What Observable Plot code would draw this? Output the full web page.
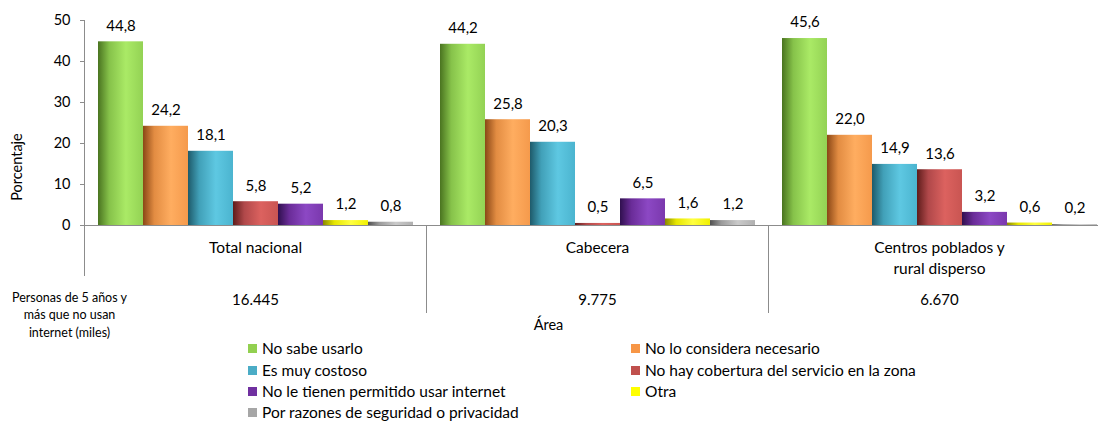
<!DOCTYPE html>
<html><head><meta charset="utf-8">
<script src="https://cdn.jsdelivr.net/npm/d3@7"></script>
<script src="https://cdn.jsdelivr.net/npm/@observablehq/plot@0.6"></script>
<style>
html,body{margin:0;padding:0;background:#fff;overflow:hidden}
#wrap{position:relative;width:1098px;height:423px;overflow:hidden;font-family:Lato,sans-serif}
#wrap svg{max-width:none!important;position:absolute;left:0;top:0}
.leg{position:absolute;font-size:15.5px;line-height:18px;color:#000;white-space:nowrap;padding-left:14px}
.leg i{position:absolute;left:0;top:4.5px;width:9px;height:9px}
</style></head><body><div id="wrap"></div>
<script>
const groups = ["Total nacional", "Cabecera", "Centros poblados y rural disperso"];
const groupLabels = ["Total nacional", "Cabecera", "Centros poblados y\nrural disperso"];
const series = [
  "No sabe usarlo",
  "No lo considera necesario",
  "Es muy costoso",
  "No hay cobertura del servicio en la zona",
  "No le tienen permitido usar internet",
  "Otra",
  "Por razones de seguridad o privacidad"
];
const totalNacional = [44.8, 24.2, 18.1, 5.8, 5.2, 1.2, 0.8];
const cabecera      = [44.2, 25.8, 20.3, 0.5, 6.5, 1.6, 1.2];
const centros       = [45.6, 22.0, 14.9, 13.6, 3.2, 0.6, 0.2];
const personas = ["16.445", "9.775", "6.670"];
const rowLabel = "Personas de 5 años y\nmás que no usan\ninternet (miles)";
const yTicks = [0, 10, 20, 30, 40, 50];
const flatColors = ["#92d050", "#f79646", "#4bacc6", "#c0504d", "#7030a0", "#ffff00", "#a6a6a6"];
const gradStops = [
  ["#4a7420", "#86c24a", "#aaea66", "#93d254"],
  ["#8a4716", "#e28c42", "#ffad60", "#f59a4c"],
  ["#1e5a6a", "#41a0b8", "#5ec8e2", "#4bb4cf"],
  ["#5e1c1b", "#b0484a", "#dc625f", "#c95552"],
  ["#30104f", "#6a2c98", "#8c48c4", "#7a38ad"],
  ["#8a8a00", "#e6e600", "#ffff40", "#f0f000"],
  ["#505050", "#9a9a9a", "#cacaca", "#b0b0b0"]
];

const valuesByGroup = [totalNacional, cabecera, centros];
const rows = [];
groups.forEach((g, gi) => series.forEach((s, si) => rows.push({area: g, serie: s, value: valuesByGroup[gi][si]})));
const tableRows = groups.map((g, i) => ({area: g, label: groupLabels[i], total: personas[i]}));
const fmt = v => v.toFixed(1).replace(".", ",");

const chart = Plot.plot({
  width: 1112, height: 423,
  marginTop: 20, marginBottom: 198, marginLeft: 83, marginRight: 2,
  style: {fontFamily: "Lato, sans-serif", fontSize: "14px", color: "#000", background: "transparent"},
  fx: {domain: groups, padding: 0, axis: null, label: null},
  x: {domain: series, paddingInner: 0, paddingOuter: 0.22, axis: null},
  y: {domain: [0, 50], axis: null},
  color: {domain: series, range: series.map((_, i) => `url(#grad${i})`)},
  marks: [
    Plot.barY(rows, {fx: "area", x: "serie", y: "value", fill: "serie"}),
    Plot.ruleY([0], {stroke: "#8c8c8c"}),
    Plot.frame({anchor: "left", facetAnchor: "left", stroke: "#8c8c8c", insetBottom: -50}),
    Plot.frame({anchor: "right", stroke: "#8c8c8c", insetTop: 205, insetBottom: -87}),
    Plot.axisY(yTicks, {tickSize: 4, tickPadding: 10, stroke: "#8c8c8c", fill: "#000", fontSize: 14.5, label: null, tickFormat: d => d}),
    Plot.text(["Porcentaje"], {frameAnchor: "left", facetAnchor: "left", textAnchor: "middle", rotate: -90, dx: -67, dy: 44, fontSize: 14.5, fill: "#000"}),
    Plot.text(rows, {fx: "area", x: "serie", y: "value", text: d => fmt(d.value), dy: -16, fontSize: 15, fill: "#000"}),
    Plot.text(tableRows, {fx: "area", text: "label", frameAnchor: "bottom", lineAnchor: "top", dy: 13, lineHeight: 1.35, fontSize: 15.5, fill: "#000"}),
    Plot.text(tableRows, {fx: "area", text: "total", frameAnchor: "bottom", dy: 79, fontSize: 15, fill: "#000"}),
    Plot.text([rowLabel], {frameAnchor: "bottom-left", facetAnchor: "left", textAnchor: "middle", lineAnchor: "top", dx: -15, dy: 64, lineHeight: 1.4, fontSize: 12.5, fill: "#000"}),
    Plot.text([tableRows[1]], {fx: "area", text: () => "Área", frameAnchor: "bottom", dx: -49, dy: 104, fontSize: 14.5, fill: "#000"})
  ]
});
chart.style.maxWidth = "none";

const defs = d3.select(chart).insert("defs", ":first-child");
gradStops.forEach((st, i) => {
  const lg = defs.append("linearGradient").attr("id", `grad${i}`)
    .attr("x1", "0").attr("x2", "1").attr("y1", "0").attr("y2", "0");
  [0, 0.25, 0.62, 1].forEach((o, k) => lg.append("stop").attr("offset", o).attr("stop-color", st[k]));
});

const wrap = document.getElementById("wrap");
wrap.appendChild(chart);
const legCenters = [348, 370, 391, 412];
series.forEach((s, i) => {
  const d = document.createElement("div");
  d.className = "leg";
  d.style.left = (i % 2 ? 631 : 248) + "px";
  d.style.top = (legCenters[Math.floor(i / 2)] - 9) + "px";
  d.innerHTML = `<i style="background:${flatColors[i]}"></i>`;
  d.appendChild(document.createTextNode(s));
  wrap.appendChild(d);
});
</script></body></html>
